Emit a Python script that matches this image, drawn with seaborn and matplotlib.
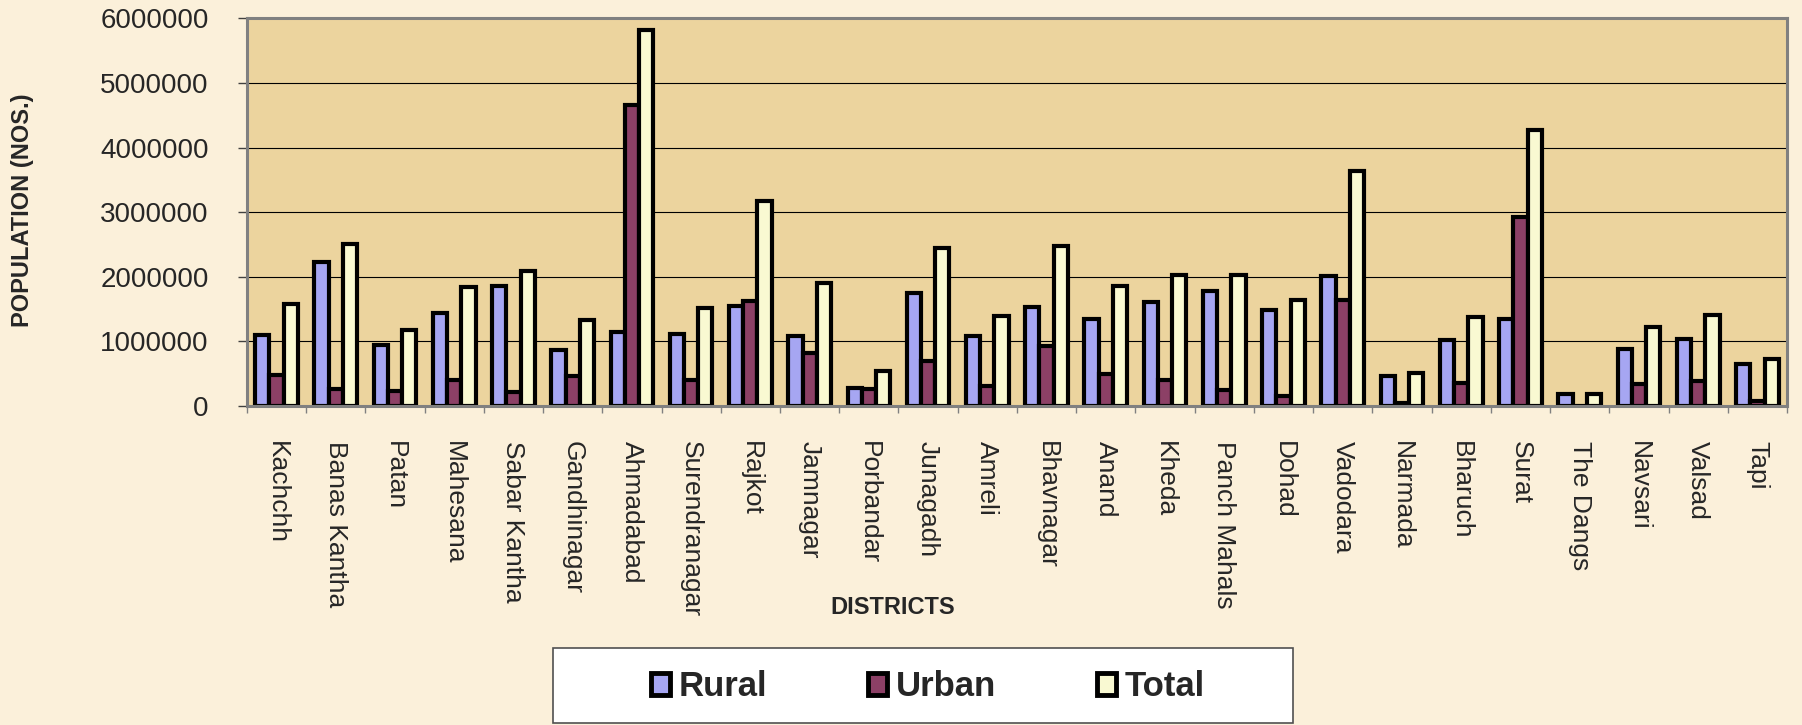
import pandas as pd
import numpy as np
import matplotlib
matplotlib.use("Agg")
import matplotlib.pyplot as plt
from matplotlib.patches import Rectangle
from matplotlib.ticker import MultipleLocator, FixedLocator
import seaborn as sns

# data (Gujarat districts, census population)
districts = ["Kachchh", "Banas Kantha", "Patan", "Mahesana", "Sabar Kantha",
             "Gandhinagar", "Ahmadabad", "Surendranagar", "Rajkot", "Jamnagar",
             "Porbandar", "Junagadh", "Amreli", "Bhavnagar", "Anand", "Kheda",
             "Panch Mahals", "Dohad", "Vadodara", "Narmada", "Bharuch", "Surat",
             "The Dangs", "Navsari", "Valsad", "Tapi"]
rural = [1105000, 2236000, 952000, 1432000, 1862000, 873000, 1150000, 1120000,
         1546000, 1077000, 280000, 1744000, 1080000, 1537000, 1354000, 1617000,
         1776000, 1487000, 2008000, 466000, 1016000, 1350000, 186700, 890000,
         1030000, 650000]
urban = [478000, 268000, 231000, 406000, 222000, 461000, 4666000, 395000,
         1624000, 827000, 257000, 704000, 313000, 933000, 503000, 407000,
         249000, 149000, 1634000, 48000, 355000, 2925000, 0, 339000,
         380000, 70000]
total = [1583000, 2504000, 1183000, 1838000, 2083000, 1334000, 5816000, 1515000,
         3170000, 1904000, 537000, 2448000, 1393000, 2470000, 1857000, 2024000,
         2025000, 1636000, 3642000, 514000, 1371000, 4276000, 186700, 1229000,
         1411000, 720000]

df = pd.DataFrame({"District": districts, "Rural": rural, "Urban": urban, "Total": total})
long_df = df.melt(id_vars="District", var_name="Area", value_name="Population")

sns.set_theme(style="white")
plt.rcParams["font.family"] = ["Liberation Sans", "DejaVu Sans"]

fig = plt.figure(figsize=(18.02, 7.25), dpi=100, facecolor="#FBF0DA")
ax = fig.add_axes([0.137, 0.44, 0.8547, 0.5346])
ax.set_facecolor("#ECD49E")

sns.barplot(data=long_df, x="District", y="Population", hue="Area",
            palette={"Rural": "#9999FF", "Urban": "#993366", "Total": "#FFFFCC"},
            edgecolor="black", linewidth=3.0, width=0.72, errorbar=None, ax=ax)

ax.set_xlim(-0.5, len(districts) - 0.5)
ax.set_ylim(0, 6000000)
ax.yaxis.set_major_locator(MultipleLocator(1000000))
ax.ticklabel_format(axis="y", style="plain")
ax.grid(axis="y", color="black", linewidth=0.8)
ax.set_axisbelow(True)

for s in ax.spines.values():
    s.set_visible(True)
    s.set_color("#808080")
    s.set_linewidth(2.2)

ax.tick_params(axis="y", which="major", direction="out", length=6.5, width=1,
               color="#404040", labelsize=20, pad=21, left=True)
ax.tick_params(axis="x", which="major", length=0, labelsize=19, pad=25, bottom=True)
ax.xaxis.set_minor_locator(FixedLocator(np.arange(-0.5, len(districts), 1.0)))
ax.tick_params(axis="x", which="minor", direction="out", length=5, width=1,
               color="#808080", bottom=True)
ax.set_xticks(range(len(districts)))
ax.set_xticklabels(districts, rotation=-90, ha="center", va="top")
ax.set_xlabel("")
ax.set_ylabel("")

fig.text(23 / 1802, 1 - 210 / 725, "POPULATION (NOS.)", rotation=90,
         fontsize=17, fontweight="bold", ha="center", va="center")
fig.text(893 / 1802, 1 - 607 / 725, "DISTRICTS", fontsize=17,
         fontweight="bold", ha="center", va="center")

# legend
handles, labels = ax.get_legend_handles_labels()
ax.get_legend().remove()
fig.patches.append(Rectangle((553 / 1802, 2 / 725), 740 / 1802, 75 / 725,
                             transform=fig.transFigure, facecolor="white",
                             edgecolor="#505050", linewidth=1.2, zorder=1))
leg = fig.legend(handles, labels, loc="center", bbox_to_anchor=(0.515, 1 - 687 / 725),
                 ncol=3, frameon=False, borderpad=0, handlelength=0.55,
                 handleheight=0.6, handletextpad=0.25, columnspacing=2.9,
                 prop={"size": 25, "weight": "bold"})
for h in leg.legend_handles:
    h.set_linewidth(3.5)
leg.set_zorder(5)

fig.savefig("out.png", dpi=100, facecolor=fig.get_facecolor())
